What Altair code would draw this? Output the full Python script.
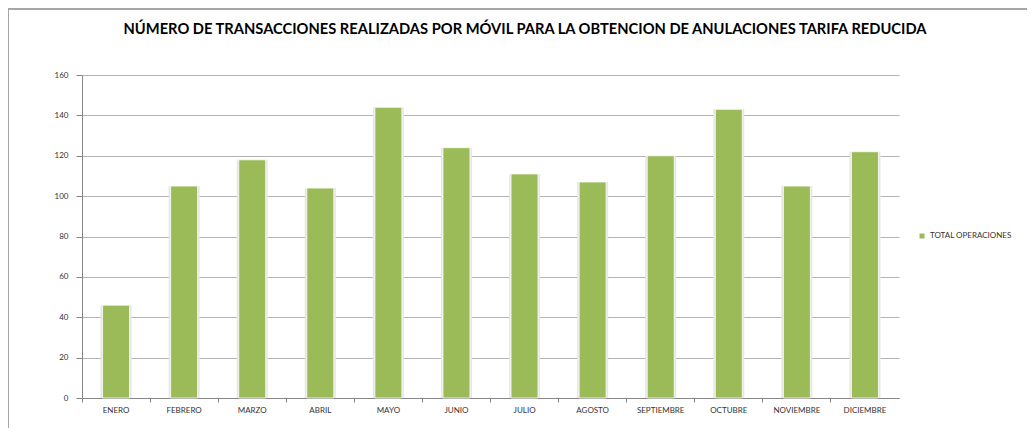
import altair as alt
import pandas as pd

months = ["ENERO", "FEBRERO", "MARZO", "ABRIL", "MAYO", "JUNIO", "JULIO",
          "AGOSTO", "SEPTIEMBRE", "OCTUBRE", "NOVIEMBRE", "DICIEMBRE"]
values = [46, 105, 118, 104, 144, 124, 111, 107, 120, 143, 105, 122]
series = ["TOTAL OPERACIONES"] * len(months)
y_ticks = [0, 20, 40, 60, 80, 100, 120, 140, 160]
title_text = ["NÚMERO DE TRANSACCIONES REALIZADAS POR MÓVIL PARA LA OBTENCION DE ANULACIONES TARIFA REDUCIDA"]

df = pd.DataFrame({"mes": months, "valor": values, "serie": series})
df_title = pd.DataFrame({"t": title_text})

FONT = "Lato"
W, H = 817, 323

x_enc = alt.X("mes:N", sort=months, title=None,
              scale=alt.Scale(paddingInner=0, paddingOuter=0),
              axis=alt.Axis(labelAngle=0, labelFontSize=8, labelColor="#333333",
                            labelFont=FONT, domainColor="#868686", tickColor="#868686",
                            tickSize=4, bandPosition=0, labelPadding=4, grid=False))
y_enc = alt.Y("valor:Q", title=None,
              scale=alt.Scale(domain=[0, 160], nice=False),
              axis=alt.Axis(values=y_ticks, labelFontSize=8, labelColor="#333333",
                            labelFont=FONT, domainColor="#868686", tickColor="#868686",
                            tickSize=6, labelPadding=8, grid=True, gridColor="#b3b3b3",
                            gridWidth=1))

shadow = alt.Chart(df).mark_bar(size=31, color="#e6e6e6").encode(
    x=x_enc, y=y_enc)

bars = alt.Chart(df).mark_bar(size=27, stroke="#ffffff", strokeWidth=0.8).encode(
    x=alt.X("mes:N", sort=months),
    y="valor:Q",
    color=alt.Color("serie:N", scale=alt.Scale(range=["#9BBB59"]), title=None,
                    legend=alt.Legend(orient="none", legendX=836, legendY=157,
                                      symbolType="square", symbolSize=25,
                                      symbolStrokeWidth=0, labelFontSize=8,
                                      labelColor="#333333", labelFont=FONT,
                                      labelLimit=200)),
)

title = alt.Chart(df_title).mark_text(
    font=FONT, fontSize=14.7, fontWeight="bold", color="#000000",
    align="center", baseline="middle").encode(
    text="t:N", x=alt.value(443), y=alt.value(-45))

border_top = alt.Chart(df).mark_rule(color="#a6a6a6", strokeWidth=1.5).encode(
    x=alt.value(-73.5), x2=alt.value(W + 140), y=alt.value(-66))
border_left = alt.Chart(df).mark_rule(color="#a6a6a6", strokeWidth=1).encode(
    x=alt.value(-73.5), y=alt.value(-66), y2=alt.value(H + 40))

chart = alt.layer(border_top, border_left, title, shadow, bars).properties(
    width=W, height=H,
    autosize=alt.AutoSizeParams(type="none"),
    padding={"left": 74, "top": 67, "right": 128, "bottom": 30},
).configure_view(stroke=None)

chart.save("out.html", embed_options={"renderer": "svg", "actions": False})
